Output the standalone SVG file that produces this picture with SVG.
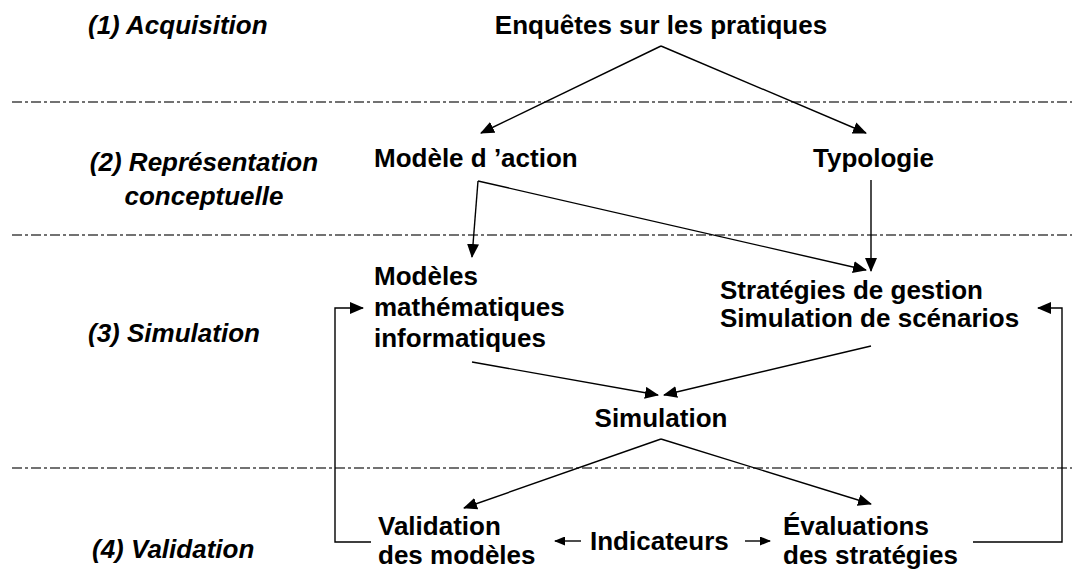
<svg xmlns="http://www.w3.org/2000/svg" width="1072" height="572" viewBox="0 0 1072 572">
<style>
text{font-family:"Liberation Sans",Arial,sans-serif;font-weight:bold;font-size:26px;fill:#000}
.it{font-style:italic}
.sep{stroke:#444;stroke-width:1.3;stroke-dasharray:10 3 3 3;fill:none}
.c{stroke:#000;stroke-width:1.4;fill:none}
.a{marker-end:url(#ah)}
.s{marker-end:url(#sh)}
</style>
<defs>
<marker id="ah" markerUnits="userSpaceOnUse" markerWidth="14" markerHeight="12" viewBox="0 0 14 12" refX="13" refY="6" orient="auto">
<path d="M0,0 L14,6 L0,12 Z" fill="#000"/>
</marker>
<marker id="sh" markerUnits="userSpaceOnUse" markerWidth="11" markerHeight="9" viewBox="0 0 11 9" refX="10" refY="4.5" orient="auto">
<path d="M0,0 L11,4.5 L0,9 Z" fill="#000"/>
</marker>
</defs>
<rect width="1072" height="572" fill="#fff"/>
<g id="separators">
<line class="sep" x1="12" y1="102" x2="1072" y2="102"/>
<line class="sep" x1="12" y1="235" x2="1072" y2="235"/>
<line class="sep" x1="12" y1="468" x2="1072" y2="468"/>
</g>
<g id="phases">
<text class="it" x="88" y="34">(1) Acquisition</text>
<text class="it" x="204" y="171" text-anchor="middle">(2) Représentation</text>
<text class="it" x="204" y="205" text-anchor="middle">conceptuelle</text>
<text class="it" x="88" y="342">(3) Simulation</text>
<text class="it" x="92" y="558">(4) Validation</text>
</g>
<g id="enquetes"><text x="661" y="34" text-anchor="middle">Enquêtes sur les pratiques</text></g>
<g id="modele-action"><text x="374" y="167">Modèle d ’action</text></g>
<g id="typologie"><text x="813" y="167">Typologie</text></g>
<g id="modeles-math">
<text x="374" y="285">Modèles</text>
<text x="374" y="316">mathématiques</text>
<text x="374" y="347">informatiques</text>
</g>
<g id="strategies">
<text x="720" y="299">Stratégies de gestion</text>
<text x="720" y="327">Simulation de scénarios</text>
</g>
<g id="simulation"><text x="661" y="427" text-anchor="middle">Simulation</text></g>
<g id="validation">
<text x="378" y="535">Validation</text>
<text x="378" y="564">des modèles</text>
</g>
<g id="indicateurs"><text x="590" y="550">Indicateurs</text></g>
<g id="evaluations">
<text x="783" y="535">Évaluations</text>
<text x="783" y="564">des stratégies</text>
</g>
<g id="connectors">
<path class="c a" d="M661,46 L481,133"/>
<path class="c a" d="M661,46 L866,133"/>
<path class="c a" d="M478,181 L472,257"/>
<path class="c a" d="M478,181 L866,270"/>
<path class="c a" d="M871,180 L871,271"/>
<path class="c a" d="M472,362 L658,395"/>
<path class="c a" d="M871,346 L664,395"/>
<path class="c a" d="M661,439 L464,508"/>
<path class="c a" d="M661,439 L871,504"/>
<path class="c a" d="M371,542 H335 V308 H363"/>
<path class="c a" d="M973,542 H1062 V308 H1038"/>
<path class="c s" d="M581,541 H555"/>
<path class="c s" d="M745,541 H770"/>
</g>
</svg>
